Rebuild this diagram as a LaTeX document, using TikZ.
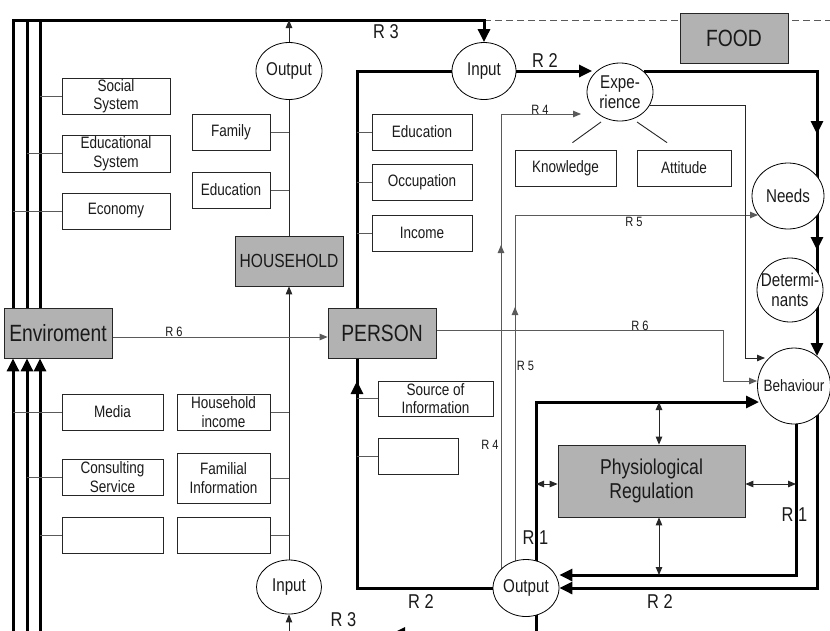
\documentclass[tikz,border=0pt]{standalone}
\usepackage{fontspec}
\setmainfont{Liberation Sans}[FakeStretch=0.82]
\usetikzlibrary{arrows.meta,shapes.geometric,backgrounds,calc}
\definecolor{boxgray}{HTML}{B2B2B2}
\definecolor{linegray}{HTML}{5A5A5A}
\definecolor{txt}{HTML}{1A1A1A}
\newcommand\zw[1]{\makebox[0pt]{#1}}
\tikzset{
 wbox/.style={draw=black!85, fill=white, line width=0.8pt, inner sep=0pt, align=center, text=txt, font=\fontsize{16.5}{18.5}\selectfont},
 gbox/.style={draw=black!85, fill=boxgray, line width=0.8pt, inner sep=0pt, align=center, text=txt},
 ell/.style={ellipse, draw=black, fill=white, line width=0.8pt, inner sep=0pt, align=center, text=txt, font=\fontsize{18.5}{20}\selectfont},
 thk/.style={line width=3pt, black},
 thn/.style={line width=0.9pt, black!85},
 gln/.style={line width=0.9pt, linegray},
 tipB/.style={-{Triangle[length=13pt,width=12pt]}},
 tipS/.style={-{Triangle[length=8pt,width=6.5pt]}},
 dbl/.style={{Triangle[length=8pt,width=6.5pt]}-{Triangle[length=8pt,width=6.5pt]}, thn},
 rlab/.style={font=\fontsize{20}{22}\selectfont, inner sep=0pt, text=txt},
 slab/.style={font=\fontsize{13.5}{15}\selectfont, inner sep=0pt, text=txt},
}
\begin{document}
\begin{tikzpicture}[x=1pt,y=-1pt]
\useasboundingbox (0,0) rectangle (830,630);
\clip (0,0) rectangle (830,630);

% ---------- nodes ----------
\node[wbox,minimum width=108pt,minimum height=36pt] (social) at (116,96) {Social\\System};
\node[wbox,minimum width=108pt,minimum height=37pt] (edusys) at (116,153.5) {Educational\\System};
\node[wbox,minimum width=108pt,minimum height=36pt] (economy) at (116,211) {Economy};
\node[wbox,minimum width=101pt,minimum height=36pt] (media) at (112.5,412) {Media};
\node[wbox,minimum width=101pt,minimum height=36pt] (consult) at (112.5,477) {Consulting\\Service};
\node[wbox,minimum width=101pt,minimum height=36pt] (blankA) at (112.5,535) {};

\node[wbox,minimum width=78pt,minimum height=36pt] (family) at (231,132) {Family};
\node[wbox,minimum width=78pt,minimum height=36pt] (hhedu) at (231,190) {Education};
\node[wbox,minimum width=93pt,minimum height=36pt] (hhinc) at (223.5,412) {Household\\income};
\node[wbox,minimum width=93pt,minimum height=50pt] (familial) at (223.5,478) {Familial\\Information};
\node[wbox,minimum width=93pt,minimum height=36pt] (blankB) at (223.5,535) {};

\node[wbox,minimum width=100pt,minimum height=36pt] (pedu) at (422,132) {Education};
\node[wbox,minimum width=100pt,minimum height=36pt] (occ) at (422,182) {Occupation};
\node[wbox,minimum width=100pt,minimum height=36pt] (income) at (422,233) {Income};
\node[wbox,minimum width=115pt,minimum height=35pt] (source) at (435.5,398.5) {Source of\\Information};
\node[wbox,minimum width=80pt,minimum height=36pt] (blankC) at (418,456) {};

\node[wbox,minimum width=101pt,minimum height=36pt] (know) at (565.5,168) {Knowledge};
\node[wbox,minimum width=94pt,minimum height=36pt] (att) at (684,168) {Attitude};

\node[gbox,minimum width=108pt,minimum height=50pt,font=\fontsize{23.5}{25}\selectfont] (env) at (58,333) {Enviroment};
\node[gbox,minimum width=108pt,minimum height=50pt,font=\fontsize{19}{21}\selectfont] (household) at (289,261) {HOUSEHOLD};
\node[gbox,minimum width=108pt,minimum height=50pt,font=\fontsize{23.5}{25}\selectfont] (person) at (382,333) {PERSON};
\node[gbox,minimum width=108pt,minimum height=50pt,font=\fontsize{23.5}{25}\selectfont] (food) at (734,38) {FOOD};
\node[gbox,minimum width=187pt,minimum height=72pt,font=\fontsize{21.5}{24}\selectfont] (physio) at (651.5,481) {Physiological\\Regulation};

\node[ell,minimum width=66pt,minimum height=57pt] (hout) at (289,71) {\zw{Output}};
\node[ell,minimum width=65pt,minimum height=54pt] (hin) at (289,587) {\zw{Input}};
\node[ell,minimum width=64pt,minimum height=57pt] (pin) at (484,71) {\zw{Input}};
\node[ell,minimum width=66pt,minimum height=57pt] (pout) at (526,588) {\zw{Output}};
\node[ell,minimum width=66pt,minimum height=58pt] (exp) at (620,92) {\zw{Expe-}\\\zw{rience}};
\node[ell,minimum width=72pt,minimum height=66pt] (needs) at (788,196) {\zw{Needs}};
\node[ell,minimum width=66pt,minimum height=64pt] (det) at (790,290) {\zw{Determi-}\\\zw{nants}};
\node[ell,minimum width=73pt,minimum height=76pt,font=\fontsize{16.5}{18}\selectfont] (beh) at (794,386) {\zw{Behaviour}};

% labels
\node[rlab] (lr3a) at (386,32) {R 3};
\node[rlab] (lr2a) at (545,61) {R 2};
\node[rlab] (lr2b) at (421,601.5) {R 2};
\node[rlab] (lr2c) at (660,601.5) {R 2};
\node[rlab] (lr3b) at (343.5,619.5) {R 3};
\node[rlab] (lr1a) at (535.5,537.5) {R 1};
\node[rlab] (lr1b) at (794.5,514.5) {R 1};
\node[slab] (lr4a) at (540,109.5) {R 4};
\node[slab] (lr4b) at (490,445) {R 4};
\node[slab] (lr5a) at (634,221.5) {R 5};
\node[slab] (lr5b) at (525.5,366) {R 5};
\node[slab] (lr6a) at (174,332) {R 6};
\node[slab] (lr6b) at (640,325.5) {R 6};

% ---------- helper coordinates ----------
\coordinate (xa) at (13,0);
\coordinate (xb) at (27,0);
\coordinate (xc) at (40,0);
\coordinate (ytop) at (0,20);
\coordinate (ybot) at (0,640);
\coordinate (xend) at (840,0);
\coordinate (xp) at (357,0);
\coordinate (xr) at (817,0);
\coordinate (xr1) at (796,0);
\coordinate (xo) at (536,0);
\coordinate (x4) at (501,0);
\coordinate (x5) at (515,0);
\coordinate (xd) at (659,0);
\coordinate (x745) at (745,0);
\coordinate (x723) at (723,0);
\coordinate (y6) at (0,337);
\coordinate (ya) at (0,398);
\coordinate (yb) at (0,381);
\coordinate (yBt) at (0,356);
\coordinate (y1a) at (0,118);
\coordinate (y1b) at (0,134);
\coordinate (y2a) at (0,234);
\coordinate (y2b) at (0,250);
\coordinate (yR1) at (0,575);
\coordinate (yR1t) at (0,402);
\coordinate (yph) at (0,484);
\coordinate (y114) at (0,114);
\coordinate (y215) at (0,215);
\coordinate (y260) at (0,260);
\coordinate (y245) at (0,245);
\coordinate (y322) at (0,322);
\coordinate (y307) at (0,307);
\coordinate (y358) at (0,358);
\coordinate (y330) at (0,330);
\coordinate (y381) at (0,381);
\coordinate (r4end) at (581,114);
\coordinate (r5end) at (758,215);
\coordinate (b358) at (765,358);
\coordinate (b381) at (757,381);
\coordinate (b402) at (759,402);
\coordinate (pa) at (432,633.5);
\coordinate (pb) at (392,633.5);

% ---------- connectors ----------
\begin{pgfonlayer}{background}
\fill[white] (0,0) rectangle (830,630);
% dashed FOOD line
\draw[gln,dashed,dash pattern=on 7pt off 4pt] (pin.north |- ytop) -- (xend |- ytop);
% left frame
\draw[thk,tipB] (xa |- env.north) -- (xa |- ytop) -| (pin.north);
\draw[thk] (xb |- env.north) -- (xb |- ytop);
\draw[thk] (xc |- env.north) -- (xc |- ytop);
\draw[thk,tipB] (xa |- ybot) -- (xa |- env.south);
\draw[thk,tipB] (xb |- ybot) -- (xb |- env.south);
\draw[thk,tipB] (xc |- ybot) -- (xc |- env.south);
\draw[gln] (xc |- social.west) -- (social.west);
\draw[gln] (xb |- edusys.west) -- (edusys.west);
\draw[gln] (xa |- economy.west) -- (economy.west);
\draw[gln] (xa |- media.west) -- (media.west);
\draw[gln] (xb |- consult.west) -- (consult.west);
\draw[gln] (xc |- blankA.west) -- (blankA.west);
% household column
\draw[thn,tipS] (hout.north) -- (hout.north |- ytop);
\draw[thn] (hout.south) -- (household.north);
\draw[thn,tipS] (hin.north) -- (household.south);
\draw[thn,tipS] (hin.south |- ybot) -- (hin.south);
\draw[gln] (family.east) -- (family.east -| hout.south);
\draw[gln] (hhedu.east) -- (hhedu.east -| hout.south);
\draw[gln] (hhinc.east) -- (hhinc.east -| hin.north);
\draw[gln] (familial.east) -- (familial.east -| hin.north);
\draw[gln] (blankB.east) -- (blankB.east -| hin.north);
% R6 environment -> person
\draw[gln,tipS] (env.east |- y6) -- (person.west |- y6);
% person frame
\draw[thk] (pin.west) -- (xp |- pin.west) -- (xp |- person.north);
\draw[thk] (pout.west) -- (xp |- pout.west) -- (xp |- person.south);
\draw[thk,tipB] (xp |- ya) -- (xp |- yb);
\draw[gln] (xp |- pedu.west) -- (pedu.west);
\draw[gln] (xp |- occ.west) -- (occ.west);
\draw[gln] (xp |- income.west) -- (income.west);
\draw[gln] (xp |- source.west) -- (source.west);
\draw[gln] (xp |- blankC.west) -- (blankC.west);
% input -> experience
\draw[thk,tipB] (pin.east) -- (pin.east -| exp.150);
% experience -> needs -> determinants -> behaviour
\draw[thk,tipB] (exp.40) -| (xr |- yBt);
\draw[thk,tipB] (xr |- y1a) -- (xr |- y1b);
\draw[thk,tipB] (xr |- y2a) -- (xr |- y2b);
% behaviour -> output
\draw[thk,tipB] (xr1 |- beh.center) -- (xr1 |- yR1) -- (pout.east |- yR1);
\draw[thk,tipB] (xr |- beh.center) -- (xr |- pout.east) -- (pout.east);
% output -> behaviour (R1)
\draw[thk,tipB] (xo |- ybot) -- (xo |- yR1t) -- (b402);
% physiological regulation
\draw[dbl] (xd |- yR1t) -- (xd |- physio.north);
\draw[dbl] (xd |- physio.south) -- (xd |- yR1);
\draw[dbl] (xo |- yph) -- (physio.west |- yph);
\draw[dbl] (physio.east |- yph) -- (xr1 |- yph);
% R4
\draw[gln,tipS] (x4 |- pout.center) -- (x4 |- y114) -- (r4end);
\draw[gln,tipS] (x4 |- y260) -- (x4 |- y245);
% R5
\draw[gln,tipS] (x5 |- pout.center) -- (x5 |- y215) -- (r5end);
\draw[gln,tipS] (x5 |- y322) -- (x5 |- y307);
% experience -> behaviour
\draw[thn,tipS] (exp.-25) -| (x745 |- y358) -- (b358);
% person -> behaviour R6
\draw[gln,tipS] (person.east |- y330) -| (x723 |- y381) -- (b381);
% experience -> knowledge / attitude
\draw[thn] ([shift={(-19,30)}]exp.center) -- ([shift={(7,-7)}]know.north);
\draw[thn] ([shift={(17,30)}]exp.center) -- ([shift={(-17,-7)}]att.north);
% partial arrow at bottom edge
\draw[thk,tipB] (pa) -- (pb);
\end{pgfonlayer}
\end{tikzpicture}
\end{document}
